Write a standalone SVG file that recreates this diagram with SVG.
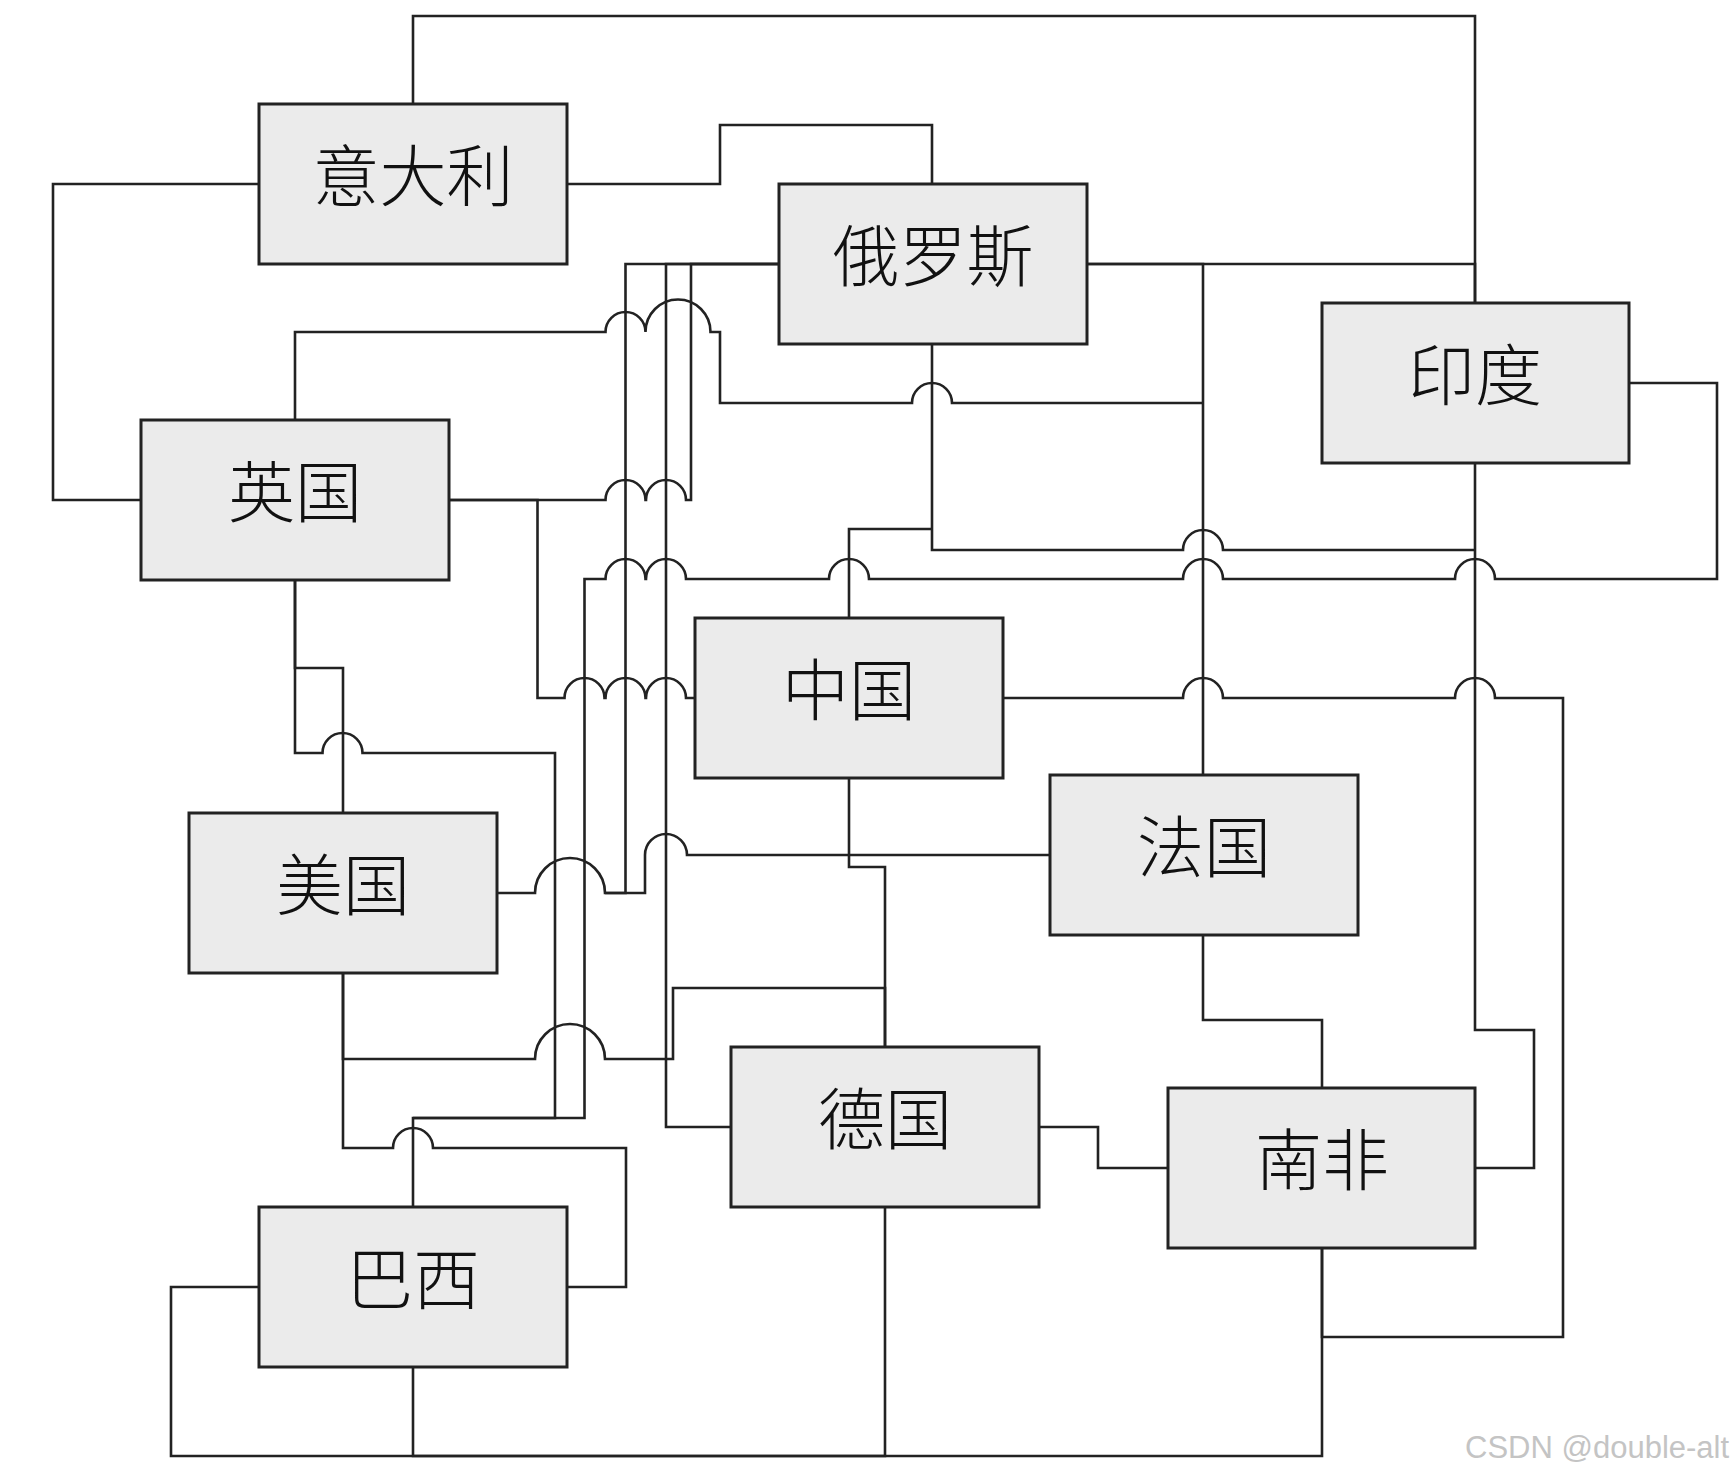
<svg xmlns="http://www.w3.org/2000/svg" width="1734" height="1477" viewBox="0 0 1734 1477">
<style>
.box{fill:#ebebeb;stroke:#222;stroke-width:3}
.lbl{font-family:"Noto Sans CJK SC","Noto Sans CJK TC",sans-serif;font-size:67px;font-weight:300;fill:#111;text-anchor:middle;dominant-baseline:central}
.c{fill:none;stroke:#222;stroke-width:2.6;stroke-linejoin:miter}
.wm{font-family:"Liberation Sans",Arial,sans-serif;font-size:31px;fill:#c4c4c4}
</style>
<rect width="1734" height="1477" fill="#fff"/>
<g id="connectors">
<path class="c" d="M413,104 V16 H1475 V303"/>
<path class="c" d="M567,184 H720 V125 H932 V184"/>
<path class="c" d="M259,184 H53 V500 H141"/>
<path class="c" d="M1087,264 H1475 V303"/>
<path class="c" d="M1087,264 H1203 V775"/>
<path class="c" d="M295,420 V332 H605.5 A20,20 0 0 1 645.5,332 A32.5,32.5 0 0 1 710.5,332 H720 V403 H912 A20,20 0 0 1 952,403 H1203"/>
<path class="c" d="M932,344 V550 H1183 A20,20 0 0 1 1223,550 H1475"/>
<path class="c" d="M849,618 V529 H932"/>
<path class="c" d="M449,500 H605.5 A20,20 0 0 1 645.5,500 H646 A20,20 0 0 1 686,500 H691 V264 H779"/>
<path class="c" d="M449,500 H537.5 V698 H564.5 A20,20 0 0 1 604.5,698 H605.5 A20,20 0 0 1 645.5,698 H646 A20,20 0 0 1 686,698 H695"/>
<path class="c" d="M413,1207 V1118 H584.5 V579 H605.5 A20,20 0 0 1 645.5,579 H646 A20,20 0 0 1 686,579 H829 A20,20 0 0 1 869,579 H1183 A20,20 0 0 1 1223,579 H1455 A20,20 0 0 1 1495,579 H1717 V383 H1629"/>
<path class="c" d="M295,580 V753 H322.5 A20,20 0 0 1 362.5,753 H555 V1118 H413"/>
<path class="c" d="M295,580 V668 H343 V813"/>
<path class="c" d="M497,893 H535 A35,35 0 0 1 605,893 H625.5 V264 H779"/>
<path class="c" d="M605,893 H645 V855 A21,21 0 0 1 687,855 H1050"/>
<path class="c" d="M731,1127 H666 V264 H779"/>
<path class="c" d="M343,972 V1059 H535 A35,35 0 0 1 605,1059 H673 V988 H885 V1047"/>
<path class="c" d="M849,778 V867 H885 V1047"/>
<path class="c" d="M343,972 V1148 H393 A20,20 0 0 1 433,1148 H626 V1287 H567"/>
<path class="c" d="M1003,698 H1183 A20,20 0 0 1 1223,698 H1455 A20,20 0 0 1 1495,698 H1563 V1337 H1322 V1248"/>
<path class="c" d="M1203,935 V1020 H1322 V1088"/>
<path class="c" d="M1475,463 V1030 H1534 V1168 H1475"/>
<path class="c" d="M1039,1127 H1098 V1168 H1168"/>
<path class="c" d="M259,1287 H171 V1456 H1322 V1248"/>
<path class="c" d="M413,1367 V1456 H885 V1207"/>
</g>
<g id="n-italy"><rect class="box" x="259" y="104" width="308" height="160"/><text class="lbl" x="413" y="171">意大利</text></g>
<g id="n-russia"><rect class="box" x="779" y="184" width="308" height="160"/><text class="lbl" x="933" y="251">俄罗斯</text></g>
<g id="n-india"><rect class="box" x="1322" y="303" width="307" height="160"/><text class="lbl" x="1475" y="370">印度</text></g>
<g id="n-uk"><rect class="box" x="141" y="420" width="308" height="160"/><text class="lbl" x="295" y="487">英国</text></g>
<g id="n-china"><rect class="box" x="695" y="618" width="308" height="160"/><text class="lbl" x="849" y="685">中国</text></g>
<g id="n-france"><rect class="box" x="1050" y="775" width="308" height="160"/><text class="lbl" x="1204" y="842">法国</text></g>
<g id="n-usa"><rect class="box" x="189" y="813" width="308" height="160"/><text class="lbl" x="343" y="880">美国</text></g>
<g id="n-germany"><rect class="box" x="731" y="1047" width="308" height="160"/><text class="lbl" x="885" y="1114">德国</text></g>
<g id="n-southafrica"><rect class="box" x="1168" y="1088" width="307" height="160"/><text class="lbl" x="1322" y="1155">南非</text></g>
<g id="n-brazil"><rect class="box" x="259" y="1207" width="308" height="160"/><text class="lbl" x="413" y="1274">巴西</text></g>
<text class="wm" x="1465" y="1458">CSDN @double-alt</text>
</svg>
